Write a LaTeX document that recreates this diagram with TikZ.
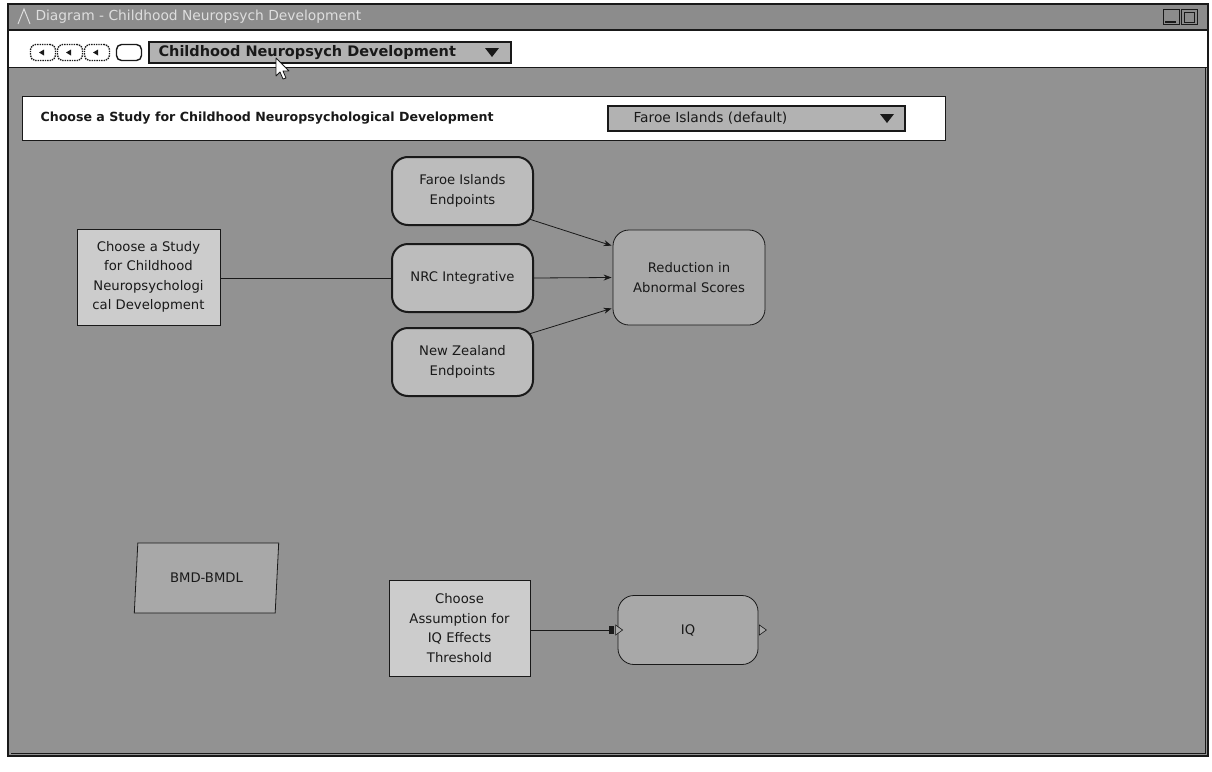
\documentclass[tikz,border=0pt]{standalone}
\usepackage{fontspec}
\setmainfont{DejaVu Sans}
\usetikzlibrary{arrows.meta,shapes.geometric}

\definecolor{canvas}{RGB}{146,146,146}
\definecolor{titlebar}{RGB}{140,140,140}
\definecolor{titletext}{RGB}{222,222,222}
\definecolor{varfill}{RGB}{188,188,188}
\definecolor{choicefill}{RGB}{204,204,204}
\definecolor{resfill}{RGB}{168,168,168}
\definecolor{ddfill}{RGB}{178,178,178}
\definecolor{ink}{RGB}{25,25,25}

\tikzset{
  nodetext/.style={font=\fontsize{13.2}{19.5}\selectfont, text=ink, align=center},
  choicebox/.style={nodetext, draw=ink, line width=1pt, fill=choicefill, inner sep=0pt},
  varbox/.style={nodetext, draw=ink, line width=2pt, fill=varfill, rounded corners=16pt,
                 minimum width=141pt, minimum height=68pt, inner sep=0pt},
  resbox/.style={nodetext, draw=ink, line width=0.8pt, fill=resfill, rounded corners=16pt, inner sep=0pt},
  link/.style={draw=ink, line width=0.8pt},
  arr/.style={link, -{Stealth[length=8pt,width=6pt]}},
  toolbtn/.style={draw=ink, line width=1.4pt, rounded corners=5pt, minimum width=25pt,
                  minimum height=16pt, inner sep=0pt, fill=white},
  dropdown/.style={draw=ink, line width=1.2pt, inner sep=0pt},
  port/.style={draw=ink, fill=resfill, line width=0.6pt}
}

\begin{document}
\begin{tikzpicture}[x=1pt,y=-1pt]
\useasboundingbox (0,0) rectangle (1212,771);
\fill[white] (0,0) rectangle (1212,771);

% window frame and diagram canvas
\draw[ink, line width=2pt, fill=canvas] (8,4) rectangle (1208,756);
\draw[ink, line width=0.8pt] (11,753) -- (1205,753) -- (1205,68);

% title bar
\fill[titlebar] (9,5) rectangle (1207,30);
\draw[titletext, line width=1pt] (18,24) -- (24,9) -- (30,24);
\node[anchor=west, text=titletext, font=\fontsize{13.8}{13.8}\selectfont] (title) at (32,16.5)
  {Diagram - Childhood Neuropsych Development};
\node[draw=ink, line width=1pt, fill=titlebar, minimum width=16pt, minimum height=15pt, inner sep=0pt] (minbtn) at (1171,17) {};
\draw[ink, line width=2pt] (1165,22) -- (1176,22);
\node[draw=ink, line width=1pt, fill=titlebar, minimum width=16pt, minimum height=15pt, inner sep=0pt] (maxbtn) at (1189,17) {};
\draw[ink, line width=1pt] (1184,12) rectangle (1194,22);

% toolbar
\fill[white] (9,30) rectangle (1207,67);
\draw[ink, line width=1.2pt] (9,30) -- (1207,30);
\draw[ink, line width=1.4pt] (9,67.5) -- (1207,67.5);
\foreach \i/\x in {1/43, 2/70, 3/97} {
  \node[toolbtn, densely dotted] (tb\i) at (\x,52.5) {};
  \fill[ink] (\x-4,52.5) -- (\x+1,49.5) -- (\x+1,55.5) -- cycle;
}
\node[toolbtn] (tb4) at (129,52.5) {};
\node[dropdown, fill=ddfill, minimum width=362pt, minimum height=21pt] (studymenu) at (330,52.5) {};
\node[anchor=west, font=\bfseries\fontsize{14.5}{14.5}\selectfont, text=ink] (studymenutext) at (155,52.5)
  {Childhood Neuropsych Development};
\fill[ink] (485,48) -- (499,48) -- (492,57) -- cycle;

% mouse pointer
\draw[ink, fill=white, line width=0.8pt, line join=round]
  (276,58) -- (276,76) -- (280,72) -- (283,79) -- (286,78) -- (283,71) -- (289,71) -- cycle;

% study selector panel
\node[draw=ink, line width=1pt, fill=white, minimum width=923pt, minimum height=44pt, inner sep=0pt] (panel) at (483.5,118) {};
\node[anchor=west, font=\bfseries\fontsize{12.6}{12.6}\selectfont, text=ink] (paneltext) at (37,118)
  {Choose a Study for Childhood Neuropsychological Development};
\node[dropdown, fill=ddfill, minimum width=297pt, minimum height=25pt] (studysel) at (756.5,118.5) {};
\node[anchor=west, font=\fontsize{13.8}{13.8}\selectfont, text=ink] (studyseltext) at (630,118.5)
  {Faroe Islands (default)};
\fill[ink] (880,114) -- (894,114) -- (887,123) -- cycle;

% study decision and endpoint nodes
\node[choicebox, minimum width=143pt, minimum height=96pt] (choose) at (148.5,277)
  {Choose a Study\\for Childhood\\Neuropsychologi\\cal Development};
\node[varbox] (faroe) at (462.5,191) {Faroe Islands\\Endpoints};
\node[varbox] (nrc) at (462.5,278) {NRC Integrative};
\node[varbox] (nz) at (462.5,362) {New Zealand\\Endpoints};
\node[resbox, minimum width=152pt, minimum height=95pt] (reduction) at (689,277.5)
  {Reduction in\\Abnormal Scores};

\draw[link] (choose.east |- nrc.west) -- (nrc.west);
\draw[arr] ([xshift=-5pt,yshift=7pt]faroe.south east) -- ([xshift=-1pt,yshift=-16pt]reduction.north west);
\draw[arr] (nrc.east) -- ([xshift=-1pt]reduction.west);
\draw[arr] ([xshift=-5pt,yshift=-7pt]nz.north east) -- ([xshift=-1pt,yshift=17pt]reduction.south west);

% BMD-BMDL
\node[nodetext, draw=ink, line width=0.8pt, fill=resfill, trapezium, trapezium stretches=true,
      trapezium left angle=79, trapezium right angle=101,
      minimum width=145pt, minimum height=70pt, inner sep=0pt] (bmd) at (206.5,578) {BMD-BMDL};

% IQ threshold assumption
\node[choicebox, minimum width=141pt, minimum height=96pt] (assume) at (459.5,628)
  {Choose\\Assumption for\\IQ Effects\\Threshold};
\node[resbox, minimum width=140pt, minimum height=69pt] (iq) at (688,630) {IQ};
\draw[link, -{Square[length=5pt,width=8pt]}] (assume.east |- iq.west) -- ([xshift=-4pt]iq.west);
\draw[port] ([xshift=-2pt,yshift=-5pt]iq.west) -- ([xshift=5pt]iq.west) -- ([xshift=-2pt,yshift=5pt]iq.west) -- cycle;
\draw[port] ([xshift=1pt,yshift=-5pt]iq.east) -- ([xshift=8pt]iq.east) -- ([xshift=1pt,yshift=5pt]iq.east) -- cycle;
\end{tikzpicture}
\end{document}
